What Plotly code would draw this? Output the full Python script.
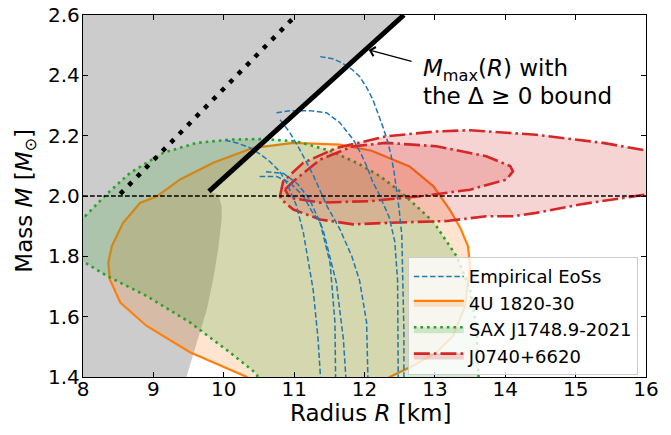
import plotly.graph_objects as go

# ---------------- data ----------------
x_ticks = [8, 9, 10, 11, 12, 13, 14, 15, 16]
y_ticks = [1.4, 1.6, 1.8, 2.0, 2.2, 2.4, 2.6]

# region excluded by the M_max(R) bound (grey)
gray_R = [7.5, 9.43, 9.47, 9.60, 9.76, 9.85, 9.92, 9.97, 9.97, 9.92, 9.79, 12.80, 7.5]
gray_M = [1.35, 1.35, 1.40, 1.50, 1.625, 1.724, 1.823, 1.922, 1.966, 2.005, 2.015, 2.65, 2.65]

# M_max(R) with the Delta >= 0 bound (thick black)
mmax_R = [9.79, 12.56]
mmax_M = [2.015, 2.60]

# causality-type bound (black dotted)
bound_R = [8.53, 11.03]
bound_M = [2.007, 2.60]

# 4U 1820-30 contour
u4_R = [10.33, 9.52, 8.90, 8.53, 8.38, 8.36, 8.41, 8.57, 8.81, 9.05, 9.38, 9.85, 10.41, 10.99,
        11.65, 12.10, 12.64, 12.98, 13.21, 13.36, 13.47, 13.50, 13.43, 13.26, 13.02, 12.69,
        12.36, 12.10, 10.60, 10.33]
u4_M = [1.400, 1.482, 1.570, 1.647, 1.724, 1.780, 1.834, 1.911, 1.977, 1.999, 2.055, 2.110, 2.159, 2.176,
        2.170, 2.150, 2.098, 2.032, 1.955, 1.895, 1.834, 1.768, 1.636, 1.536, 1.481, 1.437,
        1.400, 1.350, 1.350, 1.400]

# SAX J1748.9-2021 contour
sax_R = [8.03, 8.34, 8.67, 9.14, 9.61, 10.09, 10.56, 11.03, 11.51, 11.89, 12.22, 12.50, 12.74, 12.98,
         13.31, 13.50, 13.59, 13.62, 13.63, 10.53, 10.47, 10.09, 9.52, 8.90, 8.34, 8.03, 7.80, 7.70,
         7.80, 8.03]
sax_M = [1.933, 2.007, 2.077, 2.143, 2.176, 2.187, 2.189, 2.181, 2.150, 2.110, 2.066, 2.016, 1.966, 1.914,
         1.800, 1.690, 1.570, 1.415, 1.350, 1.350, 1.410, 1.481, 1.581, 1.669, 1.735, 1.779, 1.810, 1.860,
         1.910, 1.933]

# J0740+6620 contours (outer and inner)
j07out_R = [10.80, 10.845, 11.13, 11.60, 12.31, 13.02, 13.50, 14.44, 15.39, 15.96, 16.50, 16.60, 16.50,
            16.00, 15.06, 14.44, 14.11, 13.73, 13.17, 12.31, 11.84, 11.37, 10.99, 10.82, 10.80]
j07out_M = [2.000, 2.049, 2.110, 2.159, 2.198, 2.214, 2.218, 2.203, 2.176, 2.154, 2.130, 2.070, 2.000,
            2.005, 1.972, 1.944, 1.933, 1.933, 1.917, 1.911, 1.906, 1.922, 1.955, 1.988, 2.000]
j07in_R = [10.87, 10.99, 11.37, 11.84, 12.31, 13.02, 13.73, 14.07, 14.11, 14.02, 13.50, 12.79, 12.08,
           11.37, 10.94, 10.87]
j07in_M = [2.021, 2.049, 2.121, 2.165, 2.176, 2.165, 2.132, 2.099, 2.082, 2.055, 2.021, 1.999, 1.983,
           1.978, 1.994, 2.021]

# empirical EoS M-R curves
eosA_R = [11.37, 11.55, 11.69, 11.82, 11.93, 12.03, 12.12, 12.20, 12.26, 12.33, 12.38, 12.42, 12.45,
          12.49, 12.53, 12.55, 12.56, 12.56]
eosA_M = [2.462, 2.455, 2.440, 2.420, 2.396, 2.360, 2.319, 2.270, 2.230, 2.180, 2.132, 2.080, 2.032,
          1.960, 1.870, 1.700, 1.550, 1.380]
eosB_R = [10.75, 10.95, 11.22, 11.46, 11.65, 11.84, 11.95, 12.03, 12.11, 12.20, 12.35, 12.43, 12.47,
          12.48, 12.48]
eosB_M = [2.276, 2.283, 2.283, 2.276, 2.243, 2.187, 2.140, 2.100, 2.050, 2.010, 1.930, 1.850, 1.720,
          1.550, 1.380]
eosC_R = [10.02, 10.20, 10.37, 10.51, 10.65, 10.80, 10.90, 11.03, 11.13, 11.20, 11.27, 11.34, 11.38]
eosC_M = [2.185, 2.175, 2.160, 2.140, 2.115, 2.080, 2.040, 1.970, 1.880, 1.780, 1.690, 1.526, 1.380]
eosD_R = [10.51, 10.75, 10.94, 11.13, 11.25, 11.37, 11.51, 11.58, 11.59]
eosD_M = [2.065, 2.065, 2.044, 2.000, 1.950, 1.911, 1.779, 1.581, 1.380]
eosE_R = [10.80, 10.94, 11.08, 11.27, 11.47, 11.65, 11.82, 11.93, 12.03, 12.05]
eosE_M = [2.253, 2.210, 2.154, 2.070, 1.965, 1.890, 1.800, 1.720, 1.581, 1.380]
eosF_R = [10.60, 10.85, 11.05, 11.22, 11.41, 11.60, 11.70, 11.74]
eosF_M = [2.080, 2.075, 2.040, 1.989, 1.889, 1.713, 1.525, 1.380]

# ---------------- figure ----------------
FONT = "DejaVu Sans"
BLUE = "rgb(31,119,180)"
ORANGE = "rgb(255,127,14)"
GREEN = "rgb(44,160,44)"
RED = "rgb(214,39,40)"

fig = go.Figure()

fig.add_trace(go.Scatter(x=gray_R, y=gray_M, fill="toself", fillcolor="rgb(204,204,204)",
                         line=dict(width=0), mode="lines", hoverinfo="skip", showlegend=False))

fig.add_trace(go.Scatter(x=u4_R, y=u4_M, fill="toself", fillcolor="rgba(255,127,14,0.2)",
                         mode="lines", line=dict(color=ORANGE, width=2.2),
                         name="4U 1820-30", legendrank=2))
fig.add_trace(go.Scatter(x=sax_R, y=sax_M, fill="toself", fillcolor="rgba(44,160,44,0.2)",
                         mode="lines", line=dict(color=GREEN, width=2.6, dash="2.6px,4px"),
                         name="SAX J1748.9-2021", legendrank=3))
fig.add_trace(go.Scatter(x=j07out_R, y=j07out_M, fill="toself", fillcolor="rgba(214,39,40,0.2)",
                         mode="lines", line=dict(color=RED, width=2.6, dash="16px,4px,2.6px,4px"),
                         name="J0740+6620", legendrank=4))
fig.add_trace(go.Scatter(x=j07in_R, y=j07in_M, fill="toself", fillcolor="rgba(214,39,40,0.2)",
                         mode="lines", line=dict(color=RED, width=2.6, dash="16px,4px,2.6px,4px"),
                         showlegend=False, hoverinfo="skip"))

eos_list = [(eosA_R, eosA_M), (eosB_R, eosB_M), (eosC_R, eosC_M),
            (eosD_R, eosD_M), (eosE_R, eosE_M), (eosF_R, eosF_M)]
for i, (rr, mm) in enumerate(eos_list):
    fig.add_trace(go.Scatter(x=rr, y=mm, mode="lines", line=dict(color=BLUE, width=1.5, dash="5.5px,2.6px"),
                             name="Empirical EoSs", showlegend=(i == 0), legendrank=1))

fig.add_trace(go.Scatter(x=[8, 16], y=[2.0, 2.0], mode="lines",
                         line=dict(color="black", width=1.3, dash="4.8px,2.2px"), showlegend=False))
fig.add_trace(go.Scatter(x=bound_R, y=bound_M, mode="lines",
                         line=dict(color="black", width=4.5, dash="4.5px,7.5px"), showlegend=False))
fig.add_trace(go.Scatter(x=mmax_R, y=mmax_M, mode="lines",
                         line=dict(color="black", width=5), showlegend=False))

axis_common = dict(showline=True, linecolor="black", linewidth=1.3, mirror="allticks",
                   ticks="inside", ticklen=5, tickwidth=1, tickcolor="black", automargin=False,
                   showgrid=False, zeroline=False, tickfont=dict(family=FONT, size=20, color="black"))

fig.update_xaxes(range=[8, 16], tickvals=x_ticks, ticktext=[str(v) for v in x_ticks],
                 ticklabelstandoff=-6, **axis_common)
fig.update_yaxes(range=[1.4, 2.6], tickvals=y_ticks, ticktext=[f"{v:.1f}" for v in y_ticks],
                 ticklabelstandoff=-2, **axis_common)

# axis titles
fig.add_annotation(x=0.5105, y=-0.099, xref="paper", yref="paper", xanchor="center", yanchor="middle",
                   text="Radius <i>R</i> [km]", showarrow=False,
                   font=dict(family=FONT, size=23, color="black"))
fig.add_annotation(x=-0.101, y=0.4876, xref="paper", yref="paper", xanchor="center", yanchor="middle",
                   text="Mass <i>M</i> [<i>M</i><sub>⊙</sub>]", showarrow=False, textangle=-90,
                   font=dict(family=FONT, size=23, color="black"))

# M_max annotation
fig.add_annotation(x=12.06, y=2.484, ax=12.69, ay=2.445, xref="x", yref="y", axref="x", ayref="y",
                   text="", showarrow=True, arrowhead=4, arrowsize=1.4, arrowwidth=1.3, arrowcolor="black")
fig.add_annotation(x=12.80, y=2.418, xref="x", yref="y", xanchor="left", yanchor="middle",
                   text="<i>M</i><sub>max</sub>(<i>R</i>) with", showarrow=False,
                   font=dict(family=FONT, size=23, color="black"))
fig.add_annotation(x=12.80, y=2.331, xref="x", yref="y", xanchor="left", yanchor="middle",
                   text="the Δ ≥ 0 bound", showarrow=False,
                   font=dict(family=FONT, size=23, color="black"))

fig.update_layout(
    width=671, height=435,
    margin=dict(l=83, r=25, t=15, b=58, autoexpand=False),
    plot_bgcolor="white", paper_bgcolor="white",
    font=dict(family=FONT, color="black"),
    legend=dict(x=0.577, y=0.331, xanchor="left", yanchor="top",
                bgcolor="rgba(255,255,255,0.8)", bordercolor="rgb(204,204,204)", borderwidth=1,
                font=dict(family=FONT, size=18, color="black"),
                traceorder="normal", itemwidth=50),
    showlegend=True,
)

fig.write_html("out.html", config={"displayModeBar": False},
               post_script="document.body.style.margin='0px';")
